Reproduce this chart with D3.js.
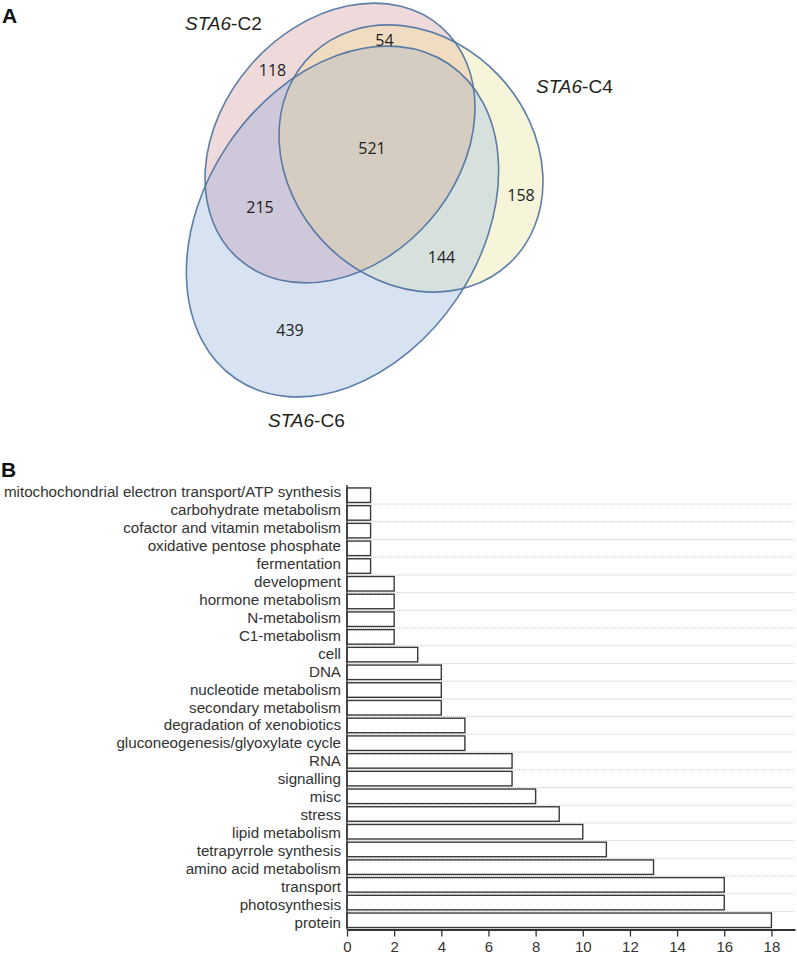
<!DOCTYPE html>
<html>
<head>
<meta charset="utf-8">
<script src="https://cdn.jsdelivr.net/npm/d3@7"></script>
<style>
  html, body { margin: 0; padding: 0; background: #fff; }
  svg { display: block; }
</style>
</head>
<body>
<div id="chart"></div>
<script>
// --- data ---
const setNames = ["STA6-C2", "STA6-C4", "STA6-C6"];
const regionKeys = ["C2", "C4", "C6", "C2C4", "C2C6", "C4C6", "C2C4C6"];
const regionCounts = [118, 158, 439, 54, 215, 144, 521];

const categories = [
  "mitochochondrial electron transport/ATP synthesis",
  "carbohydrate metabolism",
  "cofactor and vitamin metabolism",
  "oxidative pentose phosphate",
  "fermentation",
  "development",
  "hormone metabolism",
  "N-metabolism",
  "C1-metabolism",
  "cell",
  "DNA",
  "nucleotide metabolism",
  "secondary metabolism",
  "degradation of xenobiotics",
  "gluconeogenesis/glyoxylate cycle",
  "RNA",
  "signalling",
  "misc",
  "stress",
  "lipid metabolism",
  "tetrapyrrole synthesis",
  "amino acid metabolism",
  "transport",
  "photosynthesis",
  "protein"
];
const counts = [1, 1, 1, 1, 1, 2, 2, 2, 2, 3, 4, 4, 4, 5, 5, 7, 7, 8, 9, 10, 11, 13, 16, 16, 18];
const xTicks = [0, 2, 4, 6, 8, 10, 12, 14, 16, 18];

// --- layout ---
const W = 797, H = 957;
const svg = d3.select("#chart").append("svg")
  .attr("width", W).attr("height", H)
  .style("font-family", "'Liberation Sans', Arial, sans-serif");

const defs = svg.append("defs");

// ellipse shapes for the three sets (screen px)
const shapes = [
  { id: "C2", cx: 340, cy: 143, rx: 154, ry: 118.6, rot: -49 },
  { id: "C4", cx: 411, cy: 158.5, rx: 143.8, ry: 120.8, rot: 47 },
  { id: "C6", cx: 342.5, cy: 221.5, rx: 190, ry: 138, rot: -56 }
];
const shapeById = {};
shapes.forEach(s => shapeById[s.id] = s);

const addEllipse = (sel, s) => sel.append("ellipse")
  .attr("cx", 0).attr("cy", 0)
  .attr("rx", s.rx).attr("ry", s.ry)
  .attr("transform", `translate(${s.cx},${s.cy}) rotate(${s.rot})`);

shapes.forEach(s => {
  addEllipse(defs.append("clipPath").attr("id", "clip-" + s.id), s);
});

const regionFill = {
  C2: "#eed9db",
  C4: "#f6f4d9",
  C6: "#d7e3f0",
  C2C4: "#f0dcc1",
  C2C6: "#cfc7da",
  C4C6: "#d6e1de",
  C2C4C6: "#d5cdc1"
};

const venn = svg.append("g");

// single sets
["C2", "C4", "C6"].forEach(id => {
  addEllipse(venn, shapeById[id]).attr("fill", regionFill[id]);
});
// pair overlaps
[["C2", "C4"], ["C2", "C6"], ["C4", "C6"]].forEach(([a, b]) => {
  const g = venn.append("g").attr("clip-path", `url(#clip-${a})`);
  addEllipse(g, shapeById[b]).attr("fill", regionFill[a + b]);
});
// triple overlap
const g3 = venn.append("g").attr("clip-path", "url(#clip-C2)")
  .append("g").attr("clip-path", "url(#clip-C4)");
addEllipse(g3, shapeById.C6).attr("fill", regionFill.C2C4C6);

// outlines
shapes.forEach(s => {
  addEllipse(venn, s)
    .attr("fill", "none")
    .attr("stroke", "#4c71a0")
    .attr("stroke-opacity", 0.9)
    .attr("stroke-width", 1.6);
});

// region counts
const regionLabelPos = {
  C2: [272.5, 76], C4: [521, 201], C6: [290, 336],
  C2C4: [384.5, 46], C2C6: [260, 213], C4C6: [441.5, 263], C2C4C6: [372, 154]
};
venn.selectAll("text.count")
  .data(regionKeys.map((k, i) => ({ key: k, value: regionCounts[i] })))
  .enter().append("text")
  .attr("class", "count")
  .attr("x", d => regionLabelPos[d.key][0])
  .attr("y", d => regionLabelPos[d.key][1])
  .attr("text-anchor", "middle")
  .style("font-family", "'Open Sans', sans-serif")
  .style("font-size", "16px")
  .attr("fill", "#231f20")
  .text(d => d.value);

// set names: italic gene name, upright suffix
const setLabelPos = [[185, 30], [536, 93], [268, 427]];
setNames.forEach((name, i) => {
  const parts = name.split("-");
  const t = svg.append("text")
    .attr("x", setLabelPos[i][0]).attr("y", setLabelPos[i][1])
    .style("font-size", "19px")
    .attr("fill", "#231f20");
  t.append("tspan").style("font-style", "italic").text(parts[0]);
  t.append("tspan").text("-" + parts[1]);
});

// panel letters
svg.append("text").attr("x", 2).attr("y", 23)
  .style("font-size", "21px").style("font-weight", "bold").attr("fill", "#111").text("A");
svg.append("text").attr("x", 1).attr("y", 477)
  .style("font-size", "21px").style("font-weight", "bold").attr("fill", "#111").text("B");

// --- bar chart (panel B) ---
const x0 = 347, x1 = 795, axisY = 929.5;
const x = d3.scaleLinear().domain([0, 19]).range([x0, x1]);
const y = d3.scaleBand().domain(categories)
  .range([486, axisY]).paddingInner(0.18).paddingOuter(0.11);
const yLabel = d3.scalePoint().domain(categories).range([496.7, 928.3]);

const bars = svg.append("g");

// dotted separators between bars
bars.selectAll("line.grid")
  .data(categories.slice(0, -1))
  .enter().append("line")
  .attr("class", "grid")
  .attr("x1", x0).attr("x2", x1)
  .attr("y1", d => y(d) + y.bandwidth() + y.step() * y.paddingInner() / 2)
  .attr("y2", d => y(d) + y.bandwidth() + y.step() * y.paddingInner() / 2)
  .attr("stroke", "#c8c8c8")
  .attr("stroke-width", 1)
  .attr("stroke-dasharray", "1,1");

bars.selectAll("rect.bar")
  .data(categories.map((c, i) => ({ c, v: counts[i] })))
  .enter().append("rect")
  .attr("class", "bar")
  .attr("x", x(0))
  .attr("y", d => y(d.c))
  .attr("width", d => x(d.v) - x(0))
  .attr("height", y.bandwidth())
  .attr("fill", "#fff")
  .attr("stroke", "#3a3a3a")
  .attr("stroke-width", 1.4);

// category labels
bars.selectAll("text.cat")
  .data(categories)
  .enter().append("text")
  .attr("class", "cat")
  .attr("x", x0 - 6)
  .attr("y", d => yLabel(d))
  .attr("text-anchor", "end")
  .style("font-size", "15.2px")
  .attr("fill", "#333")
  .text(d => d);

// y axis line
bars.append("line")
  .attr("x1", x0).attr("x2", x0)
  .attr("y1", 485).attr("y2", axisY)
  .attr("stroke", "#333").attr("stroke-width", 1.4);

// x axis
const xAxis = svg.append("g")
  .attr("transform", `translate(0,${axisY})`)
  .call(d3.axisBottom(x).tickValues(xTicks).tickSize(7).tickPadding(5).tickSizeOuter(0));
xAxis.select(".domain").attr("stroke", "#333").attr("stroke-width", 2);
xAxis.selectAll(".tick line").attr("stroke", "#333").attr("stroke-width", 1.3);
xAxis.selectAll(".tick text")
  .attr("fill", "#333")
  .style("font-size", "15px")
  .style("font-family", "'Liberation Sans', Arial, sans-serif");
</script>
</body>
</html>
